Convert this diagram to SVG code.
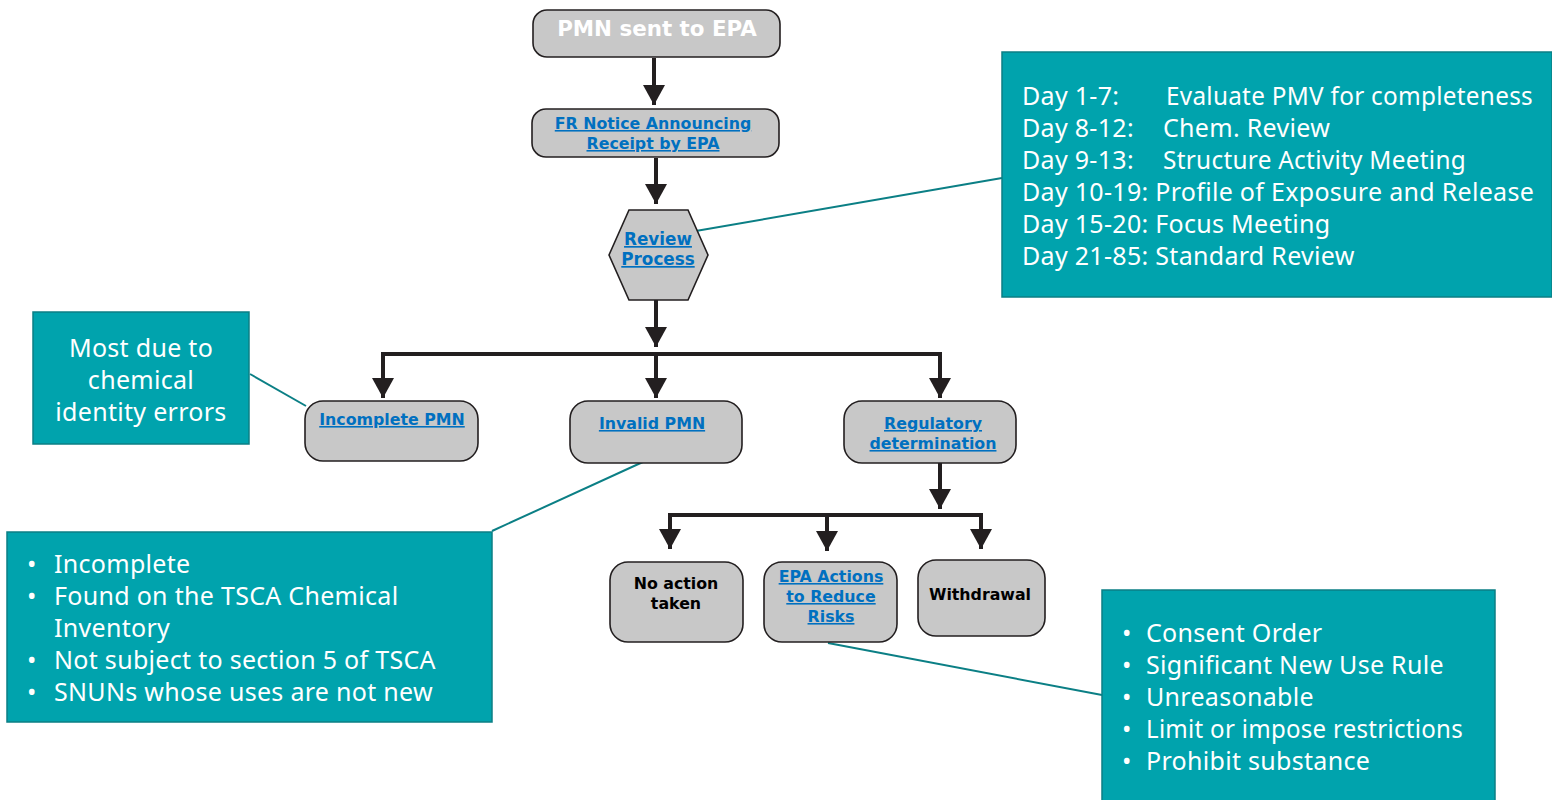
<svg xmlns="http://www.w3.org/2000/svg" width="1552" height="800" viewBox="0 0 1552 800">
<defs>
<marker id="ah" markerUnits="userSpaceOnUse" markerWidth="24" markerHeight="24" refX="20" refY="11" orient="auto">
<path d="M0,0 L20,11 L0,22 z" fill="#231f20"/>
</marker>
<style>
.node{fill:#c8c8c8;stroke:#231f20;stroke-width:1.6}
.lbl{font-family:"DejaVu Sans",Verdana,sans-serif;font-weight:bold;font-size:15.8px;text-anchor:middle}
.link{fill:#0070c0;text-decoration:underline}
.blk{fill:#000}
.flow{fill:none;stroke:#231f20;stroke-width:4}
.call{fill:#00a3ad;stroke:#0b7f85;stroke-width:1.5}
.ct{font-family:"Noto Sans","DejaVu Sans",sans-serif;font-size:25px;letter-spacing:0.3px;fill:#fff}
.lead{stroke:#0b7f85;stroke-width:2;fill:none}
</style>
</defs>
<rect width="1552" height="800" fill="#fff"/>

<g id="connectors">
<line class="flow" x1="654" y1="58" x2="654" y2="105" marker-end="url(#ah)"/>
<line class="flow" x1="656" y1="158" x2="656" y2="204" marker-end="url(#ah)"/>
<line class="flow" x1="656" y1="300" x2="656" y2="347" marker-end="url(#ah)"/>
<polyline class="flow" points="383,398 383,354 940,354 940,398"/>
<line class="flow" x1="383" y1="354" x2="383" y2="398" marker-end="url(#ah)"/>
<line class="flow" x1="656" y1="354" x2="656" y2="398" marker-end="url(#ah)"/>
<line class="flow" x1="940" y1="354" x2="940" y2="398" marker-end="url(#ah)"/>
<line class="flow" x1="940" y1="463" x2="940" y2="509" marker-end="url(#ah)"/>
<polyline class="flow" points="670,549 670,515 981,515 981,549"/>
<line class="flow" x1="670" y1="515" x2="670" y2="549" marker-end="url(#ah)"/>
<line class="flow" x1="827" y1="515" x2="827" y2="551" marker-end="url(#ah)"/>
<line class="flow" x1="981" y1="515" x2="981" y2="549" marker-end="url(#ah)"/>
<line class="lead" x1="690" y1="232" x2="1002" y2="178"/>
<line class="lead" x1="250" y1="374" x2="306" y2="406"/>
<line class="lead" x1="645" y1="461" x2="492" y2="531"/>
<line class="lead" x1="828" y1="643" x2="1102" y2="695"/>
</g>

<g id="pmn-sent">
<rect class="node" x="533" y="10" width="247" height="47" rx="14"/>
<text class="lbl" x="657" y="36" style="font-size:21.4px;fill:#fff">PMN sent to EPA</text>
</g>
<g id="fr-notice">
<rect class="node" x="532" y="109" width="247" height="48" rx="14"/>
<text class="lbl link" x="653" y="129">FR Notice Announcing</text>
<text class="lbl link" x="653" y="149">Receipt by EPA</text>
</g>
<g id="review-process">
<polygon class="node" points="609,255 629,210 688,210 708,255 688,300 629,300"/>
<text class="lbl link" x="658" y="245" style="font-size:16.8px">Review</text>
<text class="lbl link" x="658" y="265" style="font-size:16.8px">Process</text>
</g>
<g id="incomplete-pmn">
<rect class="node" x="305" y="401" width="173" height="60" rx="18"/>
<text class="lbl link" x="392" y="425">Incomplete PMN</text>
</g>
<g id="invalid-pmn">
<rect class="node" x="570" y="401" width="172" height="62" rx="18"/>
<text class="lbl link" x="652" y="429">Invalid PMN</text>
</g>
<g id="regulatory-determination">
<rect class="node" x="844" y="401" width="172" height="62" rx="18"/>
<text class="lbl link" x="933" y="429">Regulatory </text>
<text class="lbl link" x="933" y="449">determination</text>
</g>
<g id="no-action">
<rect class="node" x="610" y="562" width="133" height="80" rx="18"/>
<text class="lbl blk" x="676" y="589">No action</text>
<text class="lbl blk" x="676" y="609">taken</text>
</g>
<g id="epa-actions">
<rect class="node" x="764" y="562" width="133" height="80" rx="18"/>
<text class="lbl link" x="831" y="582">EPA Actions</text>
<text class="lbl link" x="831" y="602">to Reduce</text>
<text class="lbl link" x="831" y="622">Risks</text>
</g>
<g id="withdrawal">
<rect class="node" x="918" y="560" width="127" height="76" rx="18"/>
<text class="lbl blk" x="980" y="600">Withdrawal</text>
</g>

<g id="timeline-callout">
<rect class="call" x="1002" y="52" width="550" height="245"/>
<text class="ct" x="1022" y="105">Day 1-7:</text><text class="ct" x="1166" y="105" textLength="367" lengthAdjust="spacingAndGlyphs">Evaluate PMV for completeness</text>
<text class="ct" x="1022" y="137">Day 8-12:</text><text class="ct" x="1163" y="137">Chem. Review</text>
<text class="ct" x="1022" y="169">Day 9-13:</text><text class="ct" x="1163" y="169" textLength="303" lengthAdjust="spacingAndGlyphs">Structure Activity Meeting</text>
<text class="ct" x="1022" y="201">Day 10-19: Profile of Exposure and Release</text>
<text class="ct" x="1022" y="233">Day 15-20: Focus Meeting</text>
<text class="ct" x="1022" y="265">Day 21-85: Standard Review</text>
</g>
<g id="identity-callout">
<rect class="call" x="33" y="312" width="216" height="132"/>
<text class="ct" x="141" y="357" text-anchor="middle">Most due to</text>
<text class="ct" x="141" y="389" text-anchor="middle">chemical</text>
<text class="ct" x="141" y="421" text-anchor="middle">identity errors</text>
</g>
<g id="invalid-callout">
<rect class="call" x="7" y="532" width="485" height="190"/>
<text class="ct" x="27" y="573">•</text><text class="ct" x="54" y="573">Incomplete</text>
<text class="ct" x="27" y="605">•</text><text class="ct" x="54" y="605">Found on the TSCA Chemical</text>
<text class="ct" x="54" y="637">Inventory</text>
<text class="ct" x="27" y="669">•</text><text class="ct" x="54" y="669">Not subject to section 5 of TSCA</text>
<text class="ct" x="27" y="701">•</text><text class="ct" x="54" y="701">SNUNs whose uses are not new</text>
</g>
<g id="actions-callout">
<rect class="call" x="1102" y="590" width="393" height="220"/>
<text class="ct" x="1122" y="642">•</text><text class="ct" x="1146" y="642">Consent Order</text>
<text class="ct" x="1122" y="674">•</text><text class="ct" x="1146" y="674">Significant New Use Rule</text>
<text class="ct" x="1122" y="706">•</text><text class="ct" x="1146" y="706">Unreasonable</text>
<text class="ct" x="1122" y="738">•</text><text class="ct" x="1146" y="738" textLength="317" lengthAdjust="spacingAndGlyphs">Limit or impose restrictions</text>
<text class="ct" x="1122" y="770">•</text><text class="ct" x="1146" y="770">Prohibit substance</text>
</g>
</svg>
